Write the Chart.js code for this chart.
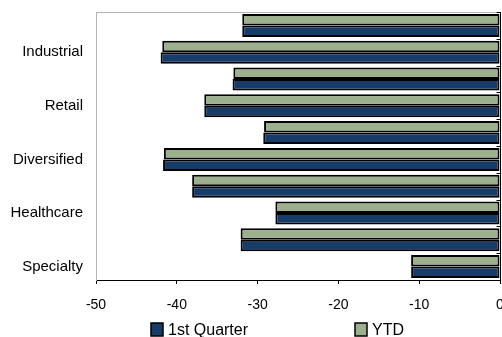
<!DOCTYPE html>
<html>
<head>
<meta charset="utf-8">
<script src="https://cdn.jsdelivr.net/npm/chart.js@4/dist/chart.umd.min.js"></script>
<style>
  html, body { margin: 0; padding: 0; background: #ffffff; }
  #wrap { width: 502px; height: 337px; }
</style>
</head>
<body>
<div id="wrap"><canvas id="c" width="502" height="337"></canvas></div>
<script>
// Sector returns (%), top row first; only every other sector is labelled
const categories = ["", "Industrial", "", "Retail", "", "Diversified", "", "Healthcare", "", "Specialty"];
const firstQuarter = [-31.9, -42.0, -33.1, -36.6, -29.3, -41.7, -38.1, -27.8, -32.1, -11.0];
const ytd = [-31.9, -41.8, -33.0, -36.6, -29.2, -41.6, -38.1, -27.8, -32.1, -11.0];
const xTicks = [-50, -40, -30, -20, -10, 0];
const seriesNames = ["1st Quarter", "YTD"];

const BLUE = "#163c6a";
const GREEN = "#9cb08d";
const FONT = "'Liberation Sans', Arial, sans-serif";

// Plot frame: grey top edge, dark zero line with small category ticks
const framePlugin = {
  id: "frame",
  afterDatasetsDraw(chart) {
    const { ctx, chartArea: a, scales } = chart;
    ctx.save();
    ctx.strokeStyle = "#b4b4b4";
    ctx.lineWidth = 1;
    ctx.beginPath();
    ctx.moveTo(a.left, a.top + 0.5);
    ctx.lineTo(a.right, a.top + 0.5);
    ctx.stroke();

    const x0 = Math.round(scales.x.getPixelForValue(0)) + 0.5;
    ctx.strokeStyle = "#000000";
    ctx.beginPath();
    ctx.moveTo(x0, a.top);
    ctx.lineTo(x0, a.bottom);
    const n = categories.length;
    const step = (a.bottom - a.top) / n;
    for (let i = 0; i <= n; i++) {
      const y = Math.round(a.top + i * step) + 0.5;
      ctx.moveTo(x0 - 4, y);
      ctx.lineTo(x0, y);
    }
    ctx.stroke();
    ctx.restore();
  },
  afterDraw(chart) {
    // Legend row under the axis
    const { ctx, chartArea: a } = chart;
    const items = [
      { text: seriesNames[0], color: BLUE, x: a.left + 55 },
      { text: seriesNames[1], color: GREEN, x: a.left + 259 }
    ];
    ctx.save();
    ctx.font = "16px " + FONT;
    ctx.textBaseline = "middle";
    ctx.textAlign = "left";
    items.forEach(it => {
      const y = 323;
      ctx.fillStyle = it.color;
      ctx.fillRect(it.x, y, 12, 13);
      ctx.strokeStyle = "#000000";
      ctx.lineWidth = 1.5;
      ctx.strokeRect(it.x, y, 12, 13);
      ctx.fillStyle = "#000000";
      ctx.fillText(it.text, it.x + 17, y + 7.5);
    });
    ctx.restore();
  }
};

new Chart(document.getElementById("c"), {
  type: "bar",
  data: {
    labels: categories,
    datasets: [
      {
        label: seriesNames[1],
        data: ytd,
        backgroundColor: GREEN,
        borderColor: "#000000",
        borderWidth: 2,
        borderSkipped: false
      },
      {
        label: seriesNames[0],
        data: firstQuarter,
        backgroundColor: BLUE,
        borderColor: "#000000",
        borderWidth: 2,
        borderSkipped: false
      }
    ]
  },
  options: {
    indexAxis: "y",
    responsive: false,
    animation: false,
    devicePixelRatio: 1,
    layout: { padding: { left: 0, right: 2, top: 12, bottom: 0 } },
    datasets: { bar: { categoryPercentage: 0.86, barPercentage: 1.0 } },
    plugins: {
      legend: { display: false },
      tooltip: { enabled: false }
    },
    scales: {
      x: {
        min: xTicks[0],
        max: xTicks[xTicks.length - 1],
        afterBuildTicks(scale) {
          scale.ticks = xTicks.map(v => ({ value: v }));
        },
        afterFit(scale) {
          scale.height = 57;
          scale.paddingLeft = 0;
          scale.paddingRight = 0;
        },
        grid: {
          display: true,
          drawOnChartArea: false,
          drawTicks: true,
          tickLength: 4,
          color: "#000000"
        },
        border: { display: true, color: "#000000", width: 1 },
        ticks: {
          color: "#000000",
          font: { family: FONT, size: 14 },
          padding: 13,
          maxRotation: 0
        }
      },
      y: {
        position: "left",
        afterFit(scale) {
          scale.width = 96;
          scale.paddingTop = 0;
          scale.paddingBottom = 0;
        },
        grid: { display: false, drawTicks: false },
        border: { display: true, color: "#b4b4b4", width: 1 },
        ticks: {
          color: "#000000",
          font: { family: FONT, size: 15 },
          padding: 13,
          autoSkip: false
        }
      }
    }
  },
  plugins: [framePlugin]
});
</script>
</body>
</html>
